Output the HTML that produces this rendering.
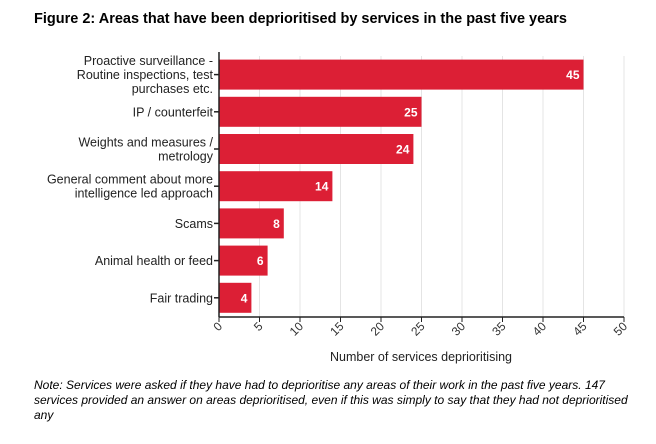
<!DOCTYPE html>
<html><head><meta charset="utf-8"><style>
body{margin:0;background:#fff;width:656px;height:444px;overflow:hidden;font-family:"Liberation Sans",sans-serif}
#t{position:absolute;left:34px;top:11px;font-weight:bold;font-size:14.5px;color:#000}
#n{position:absolute;left:34px;top:378px;width:600px;font-style:italic;font-size:12px;line-height:15px;color:#000}
</style></head><body>
<div id="t">Figure 2: Areas that have been deprioritised by services in the past five years</div>
<svg id="c" width="656" height="444" style="position:absolute;left:0;top:0"></svg>
<div id="n">Note: Services were asked if they have had to deprioritise any areas of their work in the past five years. 147 services provided an answer on areas deprioritised, even if this was simply to say that they had not deprioritised any</div>
<script>
const categories=[["Proactive surveillance -","Routine inspections, test","purchases etc."],["IP / counterfeit"],["Weights and measures /","metrology"],["General comment about more","intelligence led approach"],["Scams"],["Animal health or feed"],["Fair trading"]];
const values=[45,25,24,14,8,6,4];
const ticks=[0,5,10,15,20,25,30,35,40,45,50];
const svg=document.getElementById('c');const NS='http://www.w3.org/2000/svg';
const x0=219,xMax=50,xw=405,yTop=56,band=37.2,axisY=317;
const X=v=>x0+v/xMax*xw;
function mk(t,a,p){const e=document.createElementNS(NS,t);for(const k in a)e.setAttribute(k,a[k]);(p||svg).appendChild(e);return e;}
ticks.forEach(t=>{
 const g=mk('line',{x1:X(t),x2:X(t),y1:yTop,y2:axisY,stroke:'#e4e4e4','stroke-width':1});
 
 
 mk('line',{x1:X(t),x2:X(t),y1:axisY,y2:axisY+5,stroke:'#222'});
 const l=mk('text',{x:X(t)+4,y:axisY+10,'font-size':12,fill:'#333','text-anchor':'end',transform:`rotate(-45 ${X(t)+4} ${axisY+10})`,'font-family':'Liberation Sans'});
 l.textContent=t;
 
 
});
values.forEach((v,i)=>{
 const cy=yTop+band*i+band/2;
 const r=mk('rect',{x:x0,y:cy-15,width:X(v)-x0,height:30,fill:'#dc1f35'});
 
 
 const vt=mk('text',{x:X(v)-4,y:cy+4.5,'font-size':12,'font-weight':'bold',fill:'#fff','text-anchor':'end'});
 vt.textContent=v;
 
 
 mk('line',{x1:x0-5,x2:x0,y1:cy,y2:cy,stroke:'#222','stroke-width':1.5});
 const lines=categories[i];
 lines.forEach((s,j)=>{
  const tt=mk('text',{x:213,y:cy+4.5+(j-(lines.length-1)/2)*14,'font-size':12.5,fill:'#222','text-anchor':'end'});
  tt.textContent=s;
  
  
 });
});
mk('line',{x1:x0,x2:x0,y1:yTop-4,y2:axisY,stroke:'#222','stroke-width':1.5});
mk('line',{x1:x0,x2:x0+xw,y1:axisY,y2:axisY,stroke:'#222','stroke-width':1.5});
const at=mk('text',{x:421,y:361,'font-size':12.5,fill:'#222','text-anchor':'middle'});
at.textContent='Number of services deprioritising';


</script>
</body></html>
